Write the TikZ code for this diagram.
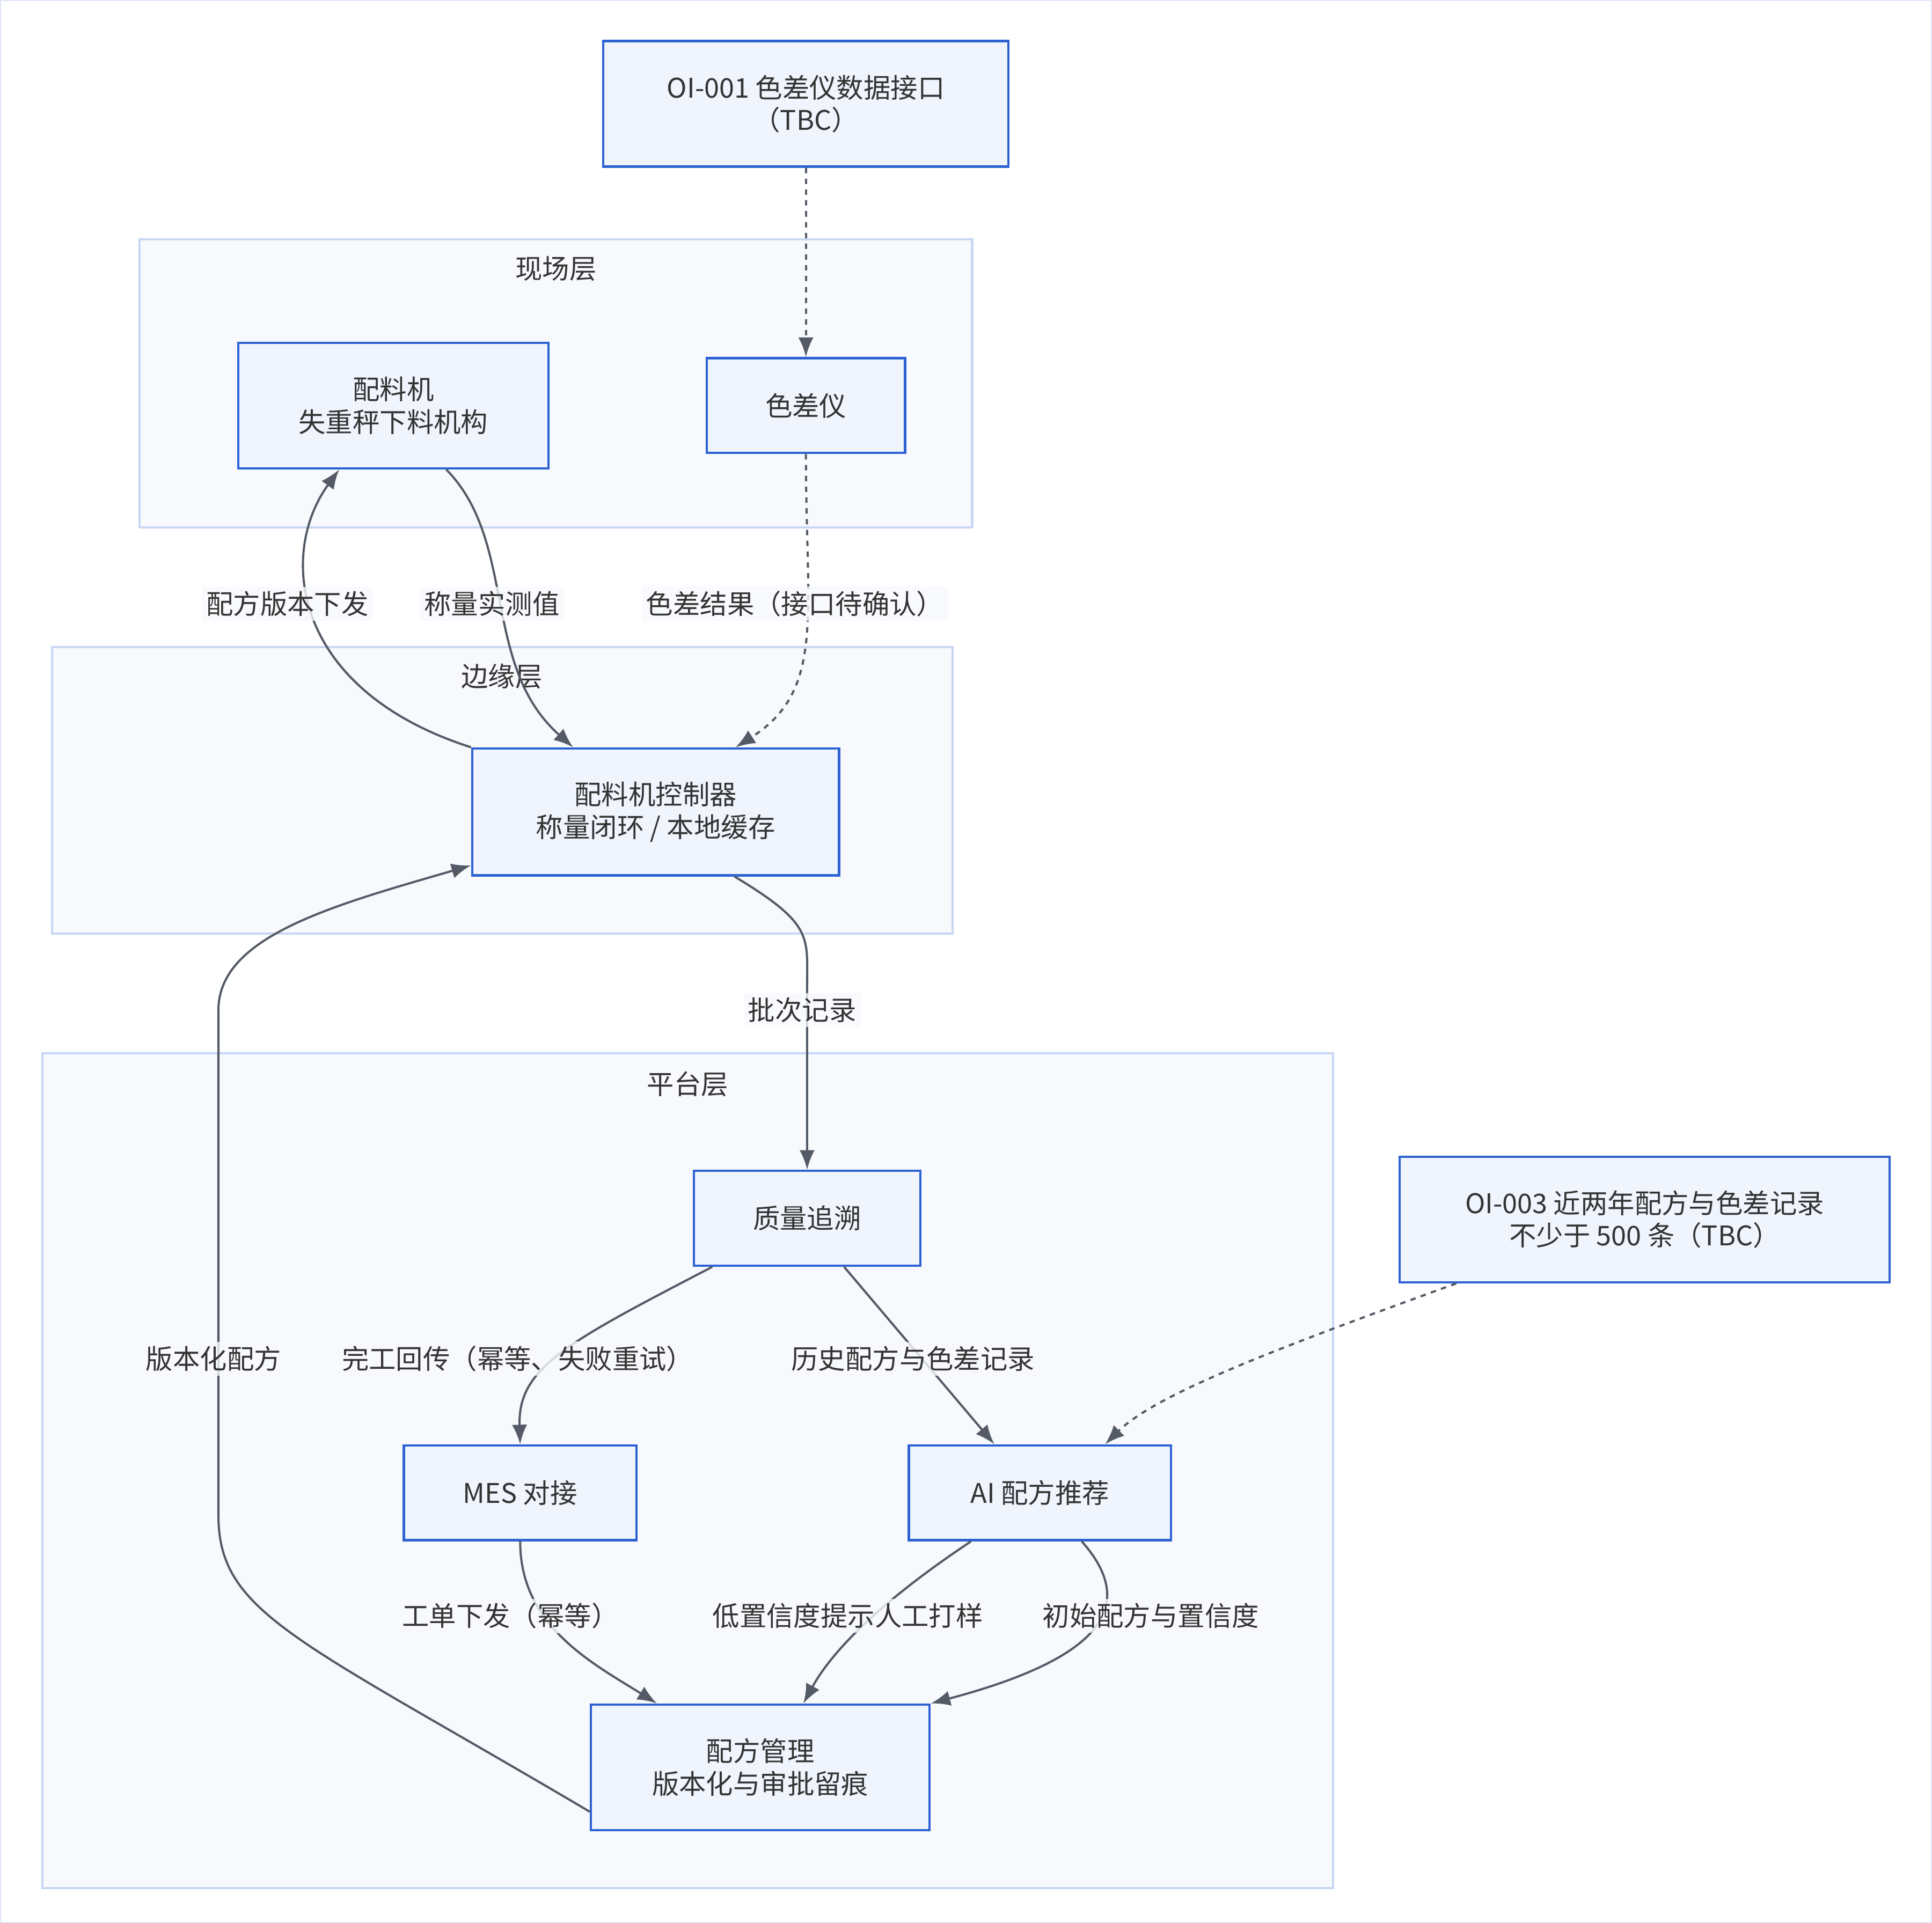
\documentclass[tikz,border=0pt]{standalone}
\usepackage{fontspec}
\setmainfont{Noto Sans CJK SC}
\usetikzlibrary{arrows.meta}
\definecolor{boxfill}{HTML}{EFF4FD}
\definecolor{boxline}{HTML}{2D62D3}
\definecolor{grpfill}{HTML}{F7F9FD}
\definecolor{grpline}{HTML}{C8D7F3}
\definecolor{edgecol}{HTML}{555B66}
\definecolor{txtcol}{HTML}{333333}
\begin{document}
\begin{tikzpicture}[x=0.02cm,y=-0.02cm]
   \tikzset{Box/.style={draw=boxline,fill=boxfill,line width=1.1pt,align=center,
      text=txtcol,font=\fontsize{12.5}{15}\selectfont}}
   \tikzset{Group/.style={draw=grpline,fill=grpfill,line width=1pt}}
   \tikzset{Edge/.style={draw=edgecol,line width=1pt,-{Latex[length=9pt,width=7pt]}}}
   \tikzset{Dash/.style={Edge,dash pattern=on 2.5pt off 2.5pt}}
   \tikzset{Lbl/.style={fill=grpfill,fill opacity=0.8,text opacity=1,text=txtcol,
      font=\fontsize{12.5}{15}\selectfont,inner sep=2pt}}
   \tikzset{Title/.style={text=txtcol,font=\fontsize{12.5}{15}\selectfont}}
   \useasboundingbox[draw=grpline!60,fill=white] (0,0) rectangle (1568,1561);
   % groups
   \draw[Group] (113,194) rectangle (789,428);
   \node[Title] (site) at (451,218) {现场层};
   \draw[Group] (42,525) rectangle (773,758);
   \node[Title] (edge) at (407,549) {边缘层};
   \draw[Group] (34,855) rectangle (1082,1533);
   \node[Title] (plat) at (558,880) {平台层};
   % nodes
   \node[Box,minimum width=6.58cm,minimum height=2.04cm] (oi1) at (654,84) {OI-001 色差仪数据接口\\（TBC）};
   \node[Box,minimum width=5.04cm,minimum height=2.04cm] (mixer) at (319,329) {配料机\\失重秤下料机构};
   \node[Box,minimum width=3.22cm,minimum height=1.54cm] (meter) at (654,329) {色差仪};
   \node[Box,minimum width=5.96cm,minimum height=2.06cm] (ctrl) at (532,659) {配料机控制器\\称量闭环 / 本地缓存};
   \node[Box,minimum width=3.68cm,minimum height=1.54cm] (trace) at (655,989) {质量追溯};
   \node[Box,minimum width=7.96cm,minimum height=2.04cm] (oi3) at (1335,990) {OI-003 近两年配方与色差记录\\不少于 500 条（TBC）};
   \node[Box,minimum width=3.78cm,minimum height=1.54cm] (mes) at (422,1212) {MES 对接};
   \node[Box,minimum width=4.26cm,minimum height=1.54cm] (ai) at (844,1212) {AI 配方推荐};
   \node[Box,minimum width=5.50cm,minimum height=2.04cm] (recipe) at (617,1435) {配方管理\\版本化与审批留痕};
   % edges
   \draw[Dash] (oi1) -- (meter);
   \draw[Edge] (ctrl.north west) .. controls (237,560) and (225,450) .. ([xshift=-0.88cm]mixer.south);
   \draw[Edge] ([xshift=0.86cm]mixer.south) .. controls (420,440) and (390,540) .. ([xshift=-1.34cm]ctrl.north);
   \draw[Dash] (meter.south) .. controls (654,500) and (670,560) .. ([xshift=1.3cm]ctrl.north);
   \draw[Edge] ([xshift=1.28cm]ctrl.south) .. controls (660,750) and (655,760) .. (655,800) -- (trace.north);
   \draw[Edge] ([xshift=-1.54cm]trace.south) .. controls (460,1090) and (420,1110) .. (mes.north);
   \draw[Edge] ([xshift=0.6cm]trace.south) -- ([xshift=-0.74cm]ai.north);
   \draw[Dash] ([xshift=-3.06cm]oi3.south) .. controls (1050,1090) and (940,1130) .. ([xshift=1.06cm]ai.north);
   \draw[Edge] (mes.south) .. controls (422,1320) and (480,1350) .. ([xshift=-1.68cm]recipe.north);
   \draw[Edge] ([xshift=-1.12cm]ai.south) .. controls (700,1310) and (670,1350) .. ([xshift=0.7cm]recipe.north);
   \draw[Edge] ([xshift=0.68cm]ai.south) .. controls (930,1310) and (880,1350) .. (recipe.north east);
   \draw[Edge] ([yshift=-1.76cm]recipe.north west) .. controls (240,1330) and (177,1310) .. (177,1230)
      -- (177,820) .. controls (177,760) and (270,735) .. ([yshift=0.18cm]ctrl.south west);
   % labels
   \node[Lbl] (l1) at (233,490) {配方版本下发};
   \node[Lbl] (l2) at (399,490) {称量实测值};
   \node[Lbl] (l3) at (645,490) {色差结果（接口待确认）};
   \node[Lbl] (l4) at (651,820) {批次记录};
   \node[Lbl] (l5) at (420,1103) {完工回传（幂等、失败重试）};
   \node[Lbl] (l6) at (741,1103) {历史配方与色差记录};
   \node[Lbl] (l7) at (173,1103) {版本化配方};
   \node[Lbl] (l8) at (414,1312) {工单下发（幂等）};
   \node[Lbl] (l9) at (688,1312) {低置信度提示人工打样};
   \node[Lbl] (l10) at (934,1312) {初始配方与置信度};
\end{tikzpicture}
\end{document}
